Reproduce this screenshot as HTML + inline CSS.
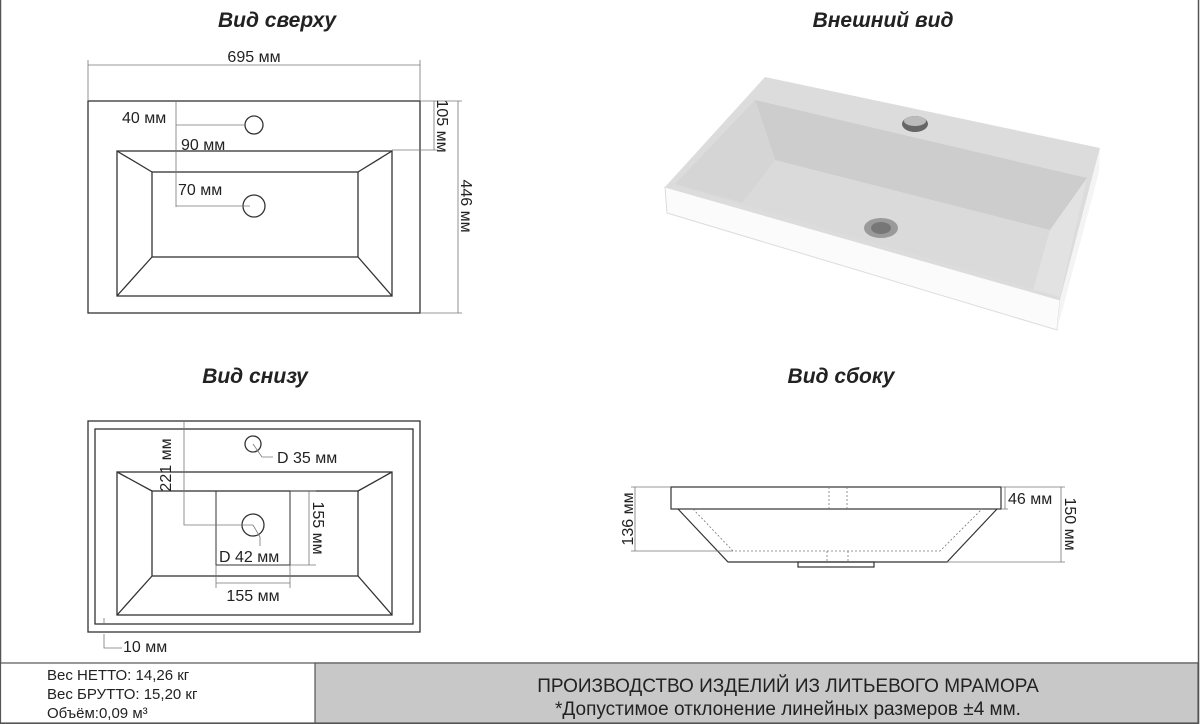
<!DOCTYPE html>
<html><head><meta charset="utf-8"><style>
html,body{margin:0;padding:0;background:#fff;}
svg{display:block;}
text{font-family:"Liberation Sans",sans-serif;fill:#222;}
.t{font-size:21px;font-weight:bold;font-style:italic;text-anchor:middle;}
.d{font-size:16px;}
</style></head><body>
<svg width="1200" height="724" viewBox="0 0 1200 724" xmlns="http://www.w3.org/2000/svg">
<rect x="0.5" y="-2" width="1198" height="726" fill="none" stroke="#555" stroke-width="1.5"/>
<text class="t" x="277" y="27">Вид сверху</text>
<text class="t" x="883" y="27">Внешний вид</text>
<text class="t" x="255" y="383">Вид снизу</text>
<text class="t" x="841" y="383">Вид сбоку</text>

<!-- top view -->
<g stroke="#333" fill="none" stroke-width="1.3">
<rect x="88" y="101" width="332" height="212"/>
<rect x="117" y="151" width="275" height="145"/>
<rect x="152" y="172" width="206" height="85"/>
<path d="M117 151L152 172M392 151L358 172M117 296L152 257M392 296L358 257"/>
<circle cx="254" cy="125" r="9"/>
<circle cx="254" cy="206" r="11"/>
</g>
<g stroke="#777" fill="none" stroke-width="0.8">
<path d="M88 65H420M88 60V101M420 60V101"/>
<path d="M176 101V207M176 125H245M176 206H250"/>
<path d="M434 101V150M392 150H438M420 101H438M458 101V313M420 313H462M420 101H462"/>
</g>
<text class="d" x="254" y="62" text-anchor="middle">695 мм</text>
<text class="d" x="122" y="123">40 мм</text>
<text class="d" x="181" y="150">90 мм</text>
<text class="d" x="178" y="195">70 мм</text>
<text class="d" transform="translate(437,126) rotate(90)" text-anchor="middle">105 мм</text>
<text class="d" transform="translate(461,206) rotate(90)" text-anchor="middle">446 мм</text>

<!-- bottom view -->
<g stroke="#333" fill="none" stroke-width="1.3">
<rect x="88" y="421" width="332" height="211"/>
<rect x="95" y="429" width="318" height="195"/>
<rect x="117" y="472" width="275" height="143"/>
<rect x="152" y="491" width="206" height="85"/>
<path d="M117 472L152 491M392 472L358 491M117 615L152 576M392 615L358 576"/>
<rect x="216" y="491" width="74" height="74" stroke-width="1"/>
<circle cx="253" cy="444" r="8"/>
<circle cx="253" cy="525" r="11"/>
</g>
<g stroke="#777" fill="none" stroke-width="0.8">
<path d="M184 421V525H253"/>
<path d="M253 444L262 457H273"/>
<path d="M253 525L260 537V546"/>
<path d="M309 491V565M290 491H316M290 565H316"/>
<path d="M216 583H290M216 565V588M290 565V588"/>
<path d="M104 618V624M104 634V648H122"/>
</g>
<text class="d" x="277" y="463">D 35 мм</text>
<text class="d" x="219" y="562">D 42 мм</text>
<text class="d" x="253" y="601" text-anchor="middle">155 мм</text>
<text class="d" x="123" y="652">10 мм</text>
<text class="d" transform="translate(171,465) rotate(-90)" text-anchor="middle">221 мм</text>
<text class="d" transform="translate(313,528) rotate(90)" text-anchor="middle">155 мм</text>

<!-- side view -->
<g stroke="#333" fill="none" stroke-width="1.2">
<rect x="671" y="487" width="330" height="22"/>
<path d="M678 509L728 562H947L997 509"/>
<rect x="798" y="562" width="76" height="5"/>
</g>
<g stroke="#777" fill="none" stroke-width="0.8" stroke-dasharray="2 2">
<path d="M829 487V509M847 487V509"/>
<path d="M693 509L733 551H940L982 509"/>
<path d="M827 551V562M848 551V562"/>
</g>
<g stroke="#777" fill="none" stroke-width="0.8">
<path d="M635 487V551M631 487H671M631 551H733"/>
<path d="M1005 487V509M1001 509H1008"/>
<path d="M1061 487V562M1001 487H1065M947 562H1065"/>
</g>
<text class="d" x="1008" y="504">46 мм</text>
<text class="d" transform="translate(633,519) rotate(-90)" text-anchor="middle">136 мм</text>
<text class="d" transform="translate(1065,524) rotate(90)" text-anchor="middle">150 мм</text>

<!-- 3D sink -->
<g>
<polygon points="765,77 1100,148 1060,300 665,187" fill="#dcdcdc"/>
<polygon points="775,160 1050,230 1060,297 675,185" fill="#dadada"/>
<polygon points="755,100 1087,178 1050,230 775,160" fill="#cdcdcd"/>
<polygon points="755,100 775,160 742,203 675,184" fill="#d5d5d5"/>
<polygon points="1087,178 1060,297 1033,290 1050,230" fill="#e2e2e2"/>
<polygon points="742,203 1033,290 1060,297 675,184" fill="#dcdcdc"/>
<polygon points="665,187 1060,300 1057,330 667,213" fill="#fbfbfb" stroke="#dcdcdc"/>
<polygon points="1060,300 1100,148 1099,172 1057,330" fill="#f4f4f4"/>
<ellipse cx="915" cy="124" rx="13" ry="8" fill="#666"/>
<ellipse cx="915" cy="121" rx="11" ry="5" fill="#bbb"/>
<ellipse cx="881" cy="228" rx="17" ry="10" fill="#9a9a9a"/>
<ellipse cx="881" cy="228" rx="10" ry="6" fill="#777"/>
</g>

<!-- bottom table -->
<rect x="0.5" y="663" width="1198" height="60" fill="#fff" stroke="#555" stroke-width="1.2"/>
<rect x="315" y="663" width="883" height="60" fill="#c8c8c8" stroke="#555" stroke-width="1.2"/>
<text x="47" y="680" style="font-size:15px">Вес НЕТТО: 14,26 кг</text>
<text x="47" y="699" style="font-size:15px">Вес БРУТТО: 15,20 кг</text>
<text x="47" y="718" style="font-size:15px">Объём:0,09 м³</text>
<text x="788" y="692" text-anchor="middle" style="font-size:19px">ПРОИЗВОДСТВО ИЗДЕЛИЙ ИЗ ЛИТЬЕВОГО МРАМОРА</text>
<text x="788" y="715" text-anchor="middle" style="font-size:19px">*Допустимое отклонение линейных размеров ±4 мм.</text>
</svg>
</body></html>
